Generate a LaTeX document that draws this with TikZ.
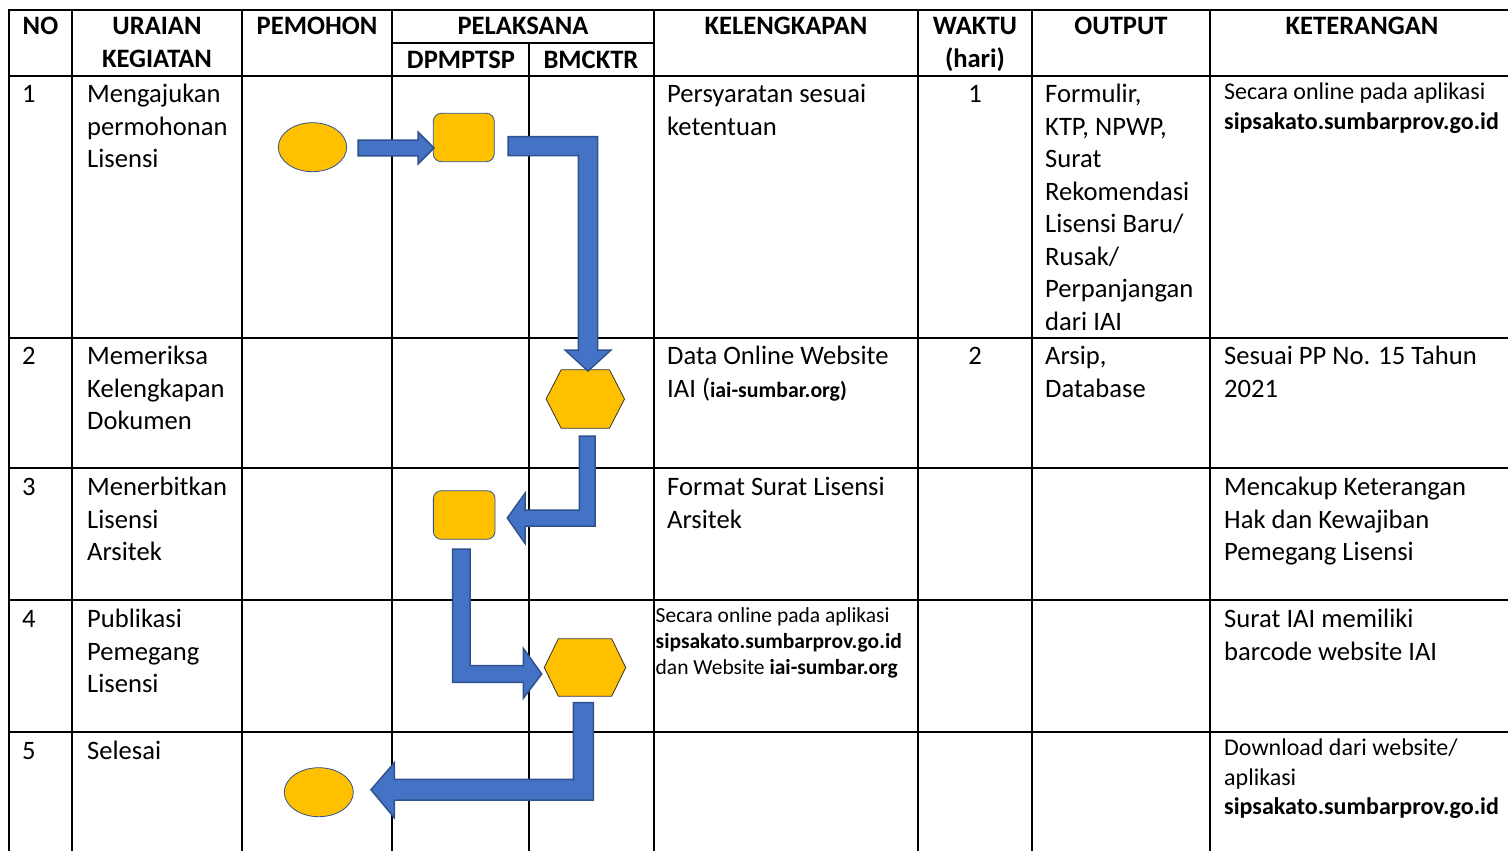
\documentclass[tikz,border=0pt]{standalone}
\usepackage{fontspec}
\setmainfont{Carlito}
\usetikzlibrary{shapes.geometric}
\definecolor{shapeyellow}{HTML}{FFC000}
\definecolor{arrowblue}{HTML}{4472C4}
\definecolor{arrowedge}{HTML}{2F528F}
\newcommand{\myBody}{\fontsize{26.6}{32.5}\selectfont}
\newcommand{\mySmall}{\fontsize{24}{29.5}\selectfont}
\newcommand{\myTiny}{\fontsize{21.5}{26}\selectfont}
\begin{document}
\begin{tikzpicture}[x=1pt,y=-1pt,
  grid/.style={line width=2.4pt, black},
  hdr/.style={anchor=north, inner sep=0pt, align=center, font=\myBody\bfseries},
  txt/.style={anchor=north west, inner sep=0pt, align=left, font=\myBody},
  num/.style={anchor=north, inner sep=0pt, font=\myBody},
  sml/.style={anchor=north west, inner sep=0pt, align=left, font=\mySmall},
  tny/.style={anchor=north west, inner sep=0pt, align=left, font=\myTiny},
  oval/.style={ellipse, fill=shapeyellow, draw=arrowedge, line width=0.8pt, inner sep=0pt},
  box/.style={rectangle, rounded corners=8pt, fill=shapeyellow, draw=arrowedge, line width=0.8pt, inner sep=0pt},
  hexframe/.style={rectangle, inner sep=0pt},
  hexfill/.style={fill=shapeyellow, draw=black!80, line width=0.8pt},
  blockarrow/.style={fill=arrowblue, draw=arrowedge, line width=1.5pt, line join=miter}
]
\useasboundingbox (0,0) rectangle (1508,851);

% ---- grid ----
\foreach \yy in {10,76,338,468,600,732}
  \draw[grid] (7.8,\yy) -- (1510,\yy);
\draw[grid] (392,43) -- (654,43);
\foreach \xx in {9,72,242,392,654,918,1032,1210}
  \draw[grid] (\xx,8.8) -- (\xx,853);
\draw[grid] (529,43) -- (529,853);

% ---- header ----
\node[hdr] (hNo) at (40.5,11.75) {\strut NO};
\node[hdr] (hUr) at (157,11.75) {\strut URAIAN\\KEGIATAN};
\node[hdr] (hPe) at (317,11.75) {\strut PEMOHON};
\node[hdr] (hPl) at (523,11.75) {\strut PELAKSANA};
\node[hdr] (hDp) at (461,45.25) {\strut DPMPTSP};
\node[hdr] (hBm) at (591,45.25) {\strut BMCKTR};
\node[hdr] (hKl) at (786,11.75) {\strut KELENGKAPAN};
\node[hdr] (hWa) at (975,11.75) {\strut WAKTU\\(hari)};
\node[hdr] (hOu) at (1121,11.75) {\strut OUTPUT};
\node[hdr] (hKe) at (1362,11.75) {\strut KETERANGAN};

% ---- row 1 ----
\node[txt] (n1) at (22,79.75) {\strut 1};
\node[txt] (u1) at (87,79.75) {\strut Mengajukan\\permohonan\\Lisensi};
\node[txt] (k1) at (667,79.75) {\strut Persyaratan sesuai\\ketentuan};
\node[num] (w1) at (975,79.75) {\strut 1};
\node[txt] (o1) at (1045,79.75) {\strut Formulir,\\KTP, NPWP,\\Surat\\Rekomendasi\\Lisensi Baru/\\Rusak/\\Perpanjangan\\dari IAI};
\node[sml] (t1) at (1224,79) {\strut Secara online pada aplikasi\\\textbf{sipsakato.sumbarprov.go.id}};

% ---- row 2 ----
\node[txt] (n2) at (22,341.75) {\strut 2};
\node[txt] (u2) at (87,341.75) {\strut Memeriksa\\Kelengkapan\\Dokumen};
\node[txt] (k2) at (667,341.75) {\strut Data Online Website\\IAI ({\bfseries\fontsize{21.8}{32.5}\selectfont iai-sumbar.org)}};
\node[num] (w2) at (975,341.75) {\strut 2};
\node[txt] (o2) at (1045,341.75) {\strut Arsip,\\Database};
\node[txt] (t2) at (1224,341.75) {\strut Sesuai PP No. 15 Tahun\\2021};

% ---- row 3 ----
\node[txt] (n3) at (22,472.75) {\strut 3};
\node[txt] (u3) at (87,472.75) {\strut Menerbitkan\\Lisensi\\Arsitek};
\node[txt] (k3) at (667,472.75) {\strut Format Surat Lisensi\\Arsitek};
\node[txt] (t3) at (1224,472.75) {\strut Mencakup Keterangan\\Hak dan Kewajiban\\Pemegang Lisensi};

% ---- row 4 ----
\node[txt] (n4) at (22,604.75) {\strut 4};
\node[txt] (u4) at (87,604.75) {\strut Publikasi\\Pemegang\\Lisensi};
\node[tny] (k4) at (655.5,603.8) {\strut Secara online pada aplikasi\\\textbf{sipsakato.sumbarprov.go.id}\\dan Website \textbf{iai-sumbar.org}};
\node[txt] (t4) at (1224,604.75) {\strut Surat IAI memiliki\\barcode website IAI};

% ---- row 5 ----
\node[txt] (n5) at (22,736.75) {\strut 5};
\node[txt] (u5) at (87,736.75) {\strut Selesai};
\node[sml] (t5) at (1224,735) {\strut Download dari website/\\aplikasi\\\textbf{sipsakato.sumbarprov.go.id}};

% ---- flow shapes ----
\node[oval, minimum width=68.4pt, minimum height=49pt] (start) at (312.5,147.2) {};
\node[box, minimum width=61pt, minimum height=48.4pt] (r1) at (463.8,137.5) {};
\node[hexframe, minimum width=78pt, minimum height=58pt] (h1) at (585.3,399) {};
\draw[hexfill] (h1.west) -- ([xshift=15pt]h1.north west) -- ([xshift=-15pt]h1.north east) -- (h1.east) -- ([xshift=-15pt]h1.south east) -- ([xshift=15pt]h1.south west) -- cycle;
\node[box, minimum width=61.7pt, minimum height=48.6pt] (r2) at (464.2,515) {};
\node[hexframe, minimum width=81pt, minimum height=57pt] (h2) at (585,667.5) {};
\draw[hexfill] (h2.west) -- ([xshift=14pt]h2.north west) -- ([xshift=-14pt]h2.north east) -- (h2.east) -- ([xshift=-14pt]h2.south east) -- ([xshift=14pt]h2.south west) -- cycle;
\node[oval, minimum width=69pt, minimum height=49pt] (stop) at (318.8,792.2) {};

% ---- block arrows ----
\draw[blockarrow] (358,140.2) -- (418,140.2) -- (418,132) -- (434,148) -- (418,164) -- (418,155.8) -- (358,155.8) -- cycle;
\draw[blockarrow] (508,136.7) -- (597.7,136.7) -- (597.7,350) -- (611,350) -- (588,371) -- (565,350) -- (578.3,350) -- (578.3,155.7) -- (508,155.7) -- cycle;
\draw[blockarrow] (579.3,436) -- (595,436) -- (595,526) -- (525,526) -- (525,543.3) -- (507.3,518) -- (525,493.3) -- (525,510) -- (579.3,510) -- cycle;
\draw[blockarrow] (452.7,549) -- (470,549) -- (470,665.7) -- (523.3,665.7) -- (523.3,648.3) -- (541.7,674) -- (523.3,698.3) -- (523.3,682.3) -- (452.7,682.3) -- cycle;
\draw[blockarrow] (573.3,702.7) -- (593.3,702.7) -- (593.3,800) -- (394.3,800) -- (394.3,817.7) -- (371,789.7) -- (394.3,762.7) -- (394.3,779.3) -- (573.3,779.3) -- cycle;
\end{tikzpicture}
\end{document}
